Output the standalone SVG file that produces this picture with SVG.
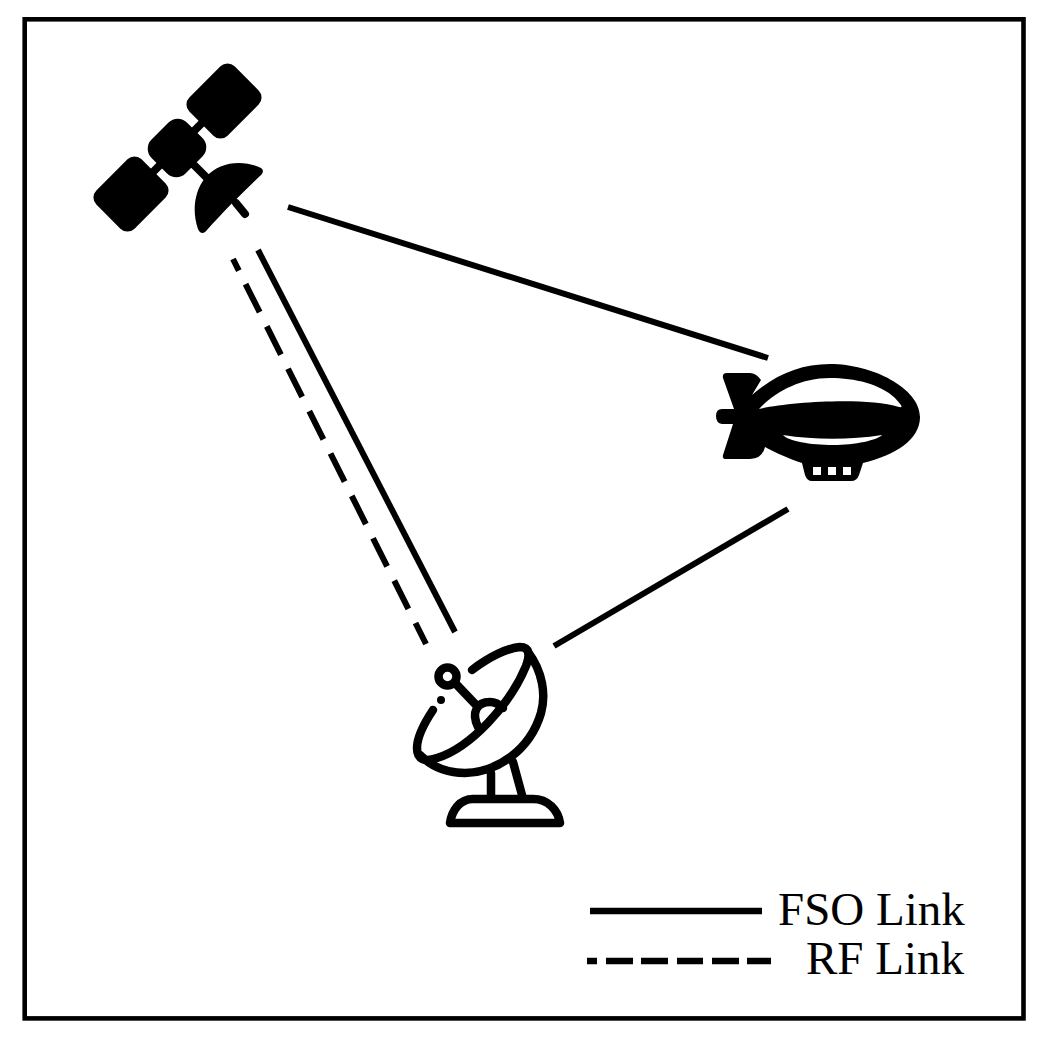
<svg xmlns="http://www.w3.org/2000/svg" width="1046" height="1040" viewBox="0 0 1046 1040">
<style>
.link{stroke:#000;stroke-width:6;fill:none}
.rf{stroke-dasharray:13 15 31.5 15.9 31.5 15.9 31.5 15.9 31.5 15.9 31.5 15.9 31.5 15.9 31.5 15.9 31.5 15.9 40 100}
.ln{stroke:#000;stroke-width:8.5;fill:none;stroke-linecap:round;stroke-linejoin:round}
.lbl{font-family:"Liberation Serif","Times New Roman",serif;font-size:47px;fill:#000}
</style>
<rect width="1046" height="1040" fill="#fff"/>
<rect x="24.7" y="19.3" width="998.8" height="999.1" fill="none" stroke="#000" stroke-width="4.6"/>
<g id="connectors">
<line class="link" x1="288" y1="207" x2="768" y2="358"/>
<line class="link" x1="258" y1="250" x2="455" y2="632"/>
<line class="link rf" x1="233" y1="259" x2="426" y2="644"/>
<line class="link" x1="788" y1="509" x2="554" y2="646"/>
</g>
<g id="satellite">
<rect x="-32" y="-27" width="64" height="54" rx="10" transform="translate(224 101) rotate(-45)"/>
<rect x="-32" y="-27" width="64" height="54" rx="10" transform="translate(131 194) rotate(-45)"/>
<rect x="-25" y="-24" width="50" height="48" rx="13" transform="translate(177 148) rotate(-45)"/>
<path d="M131 194L224 101M177 148L210 181M236 203L245 214" stroke="#000" stroke-width="8" stroke-linecap="round" fill="none"/>
<path d="M261 168C264 170 263 173 261 175C243 192 222 213 207 230C204 234 200 234 198 229C192 212 194 192 205 178C220 160 245 160 261 168Z"/>
</g>
<g id="airship">
<path fill-rule="evenodd" d="M727 373H750Q756 373 761 380L752 395C775 375 800 364 830 364C872 364 920 388 920 417C920 440 895 455 863 463L859 475Q857 481 851 481H812Q807 481 805 475L802 463C790 459 776 453 765 447Q762 459 750 459H726Q722 459 723 455L733 424H722Q716 423 716 416Q716 409 722 409H734L723 378Q722 373 727 373ZM759 409C790 402 865 397 899 407C905 408 899 403 895 398C880 384 855 378 830 378C800 378 775 392 759 409ZM783 435C815 440 850 440 882 435C878 440 855 445 833 445C810 445 788 441 783 435ZM813 467V475H821V467ZM828 467V475H836V467ZM843 467V475H851V467Z"/>
</g>
<g id="ground-station">
<circle cx="447.5" cy="676.5" r="9" class="ln"/>
<circle cx="441" cy="700" r="4"/>
<path class="ln" d="M457 685L478 707M478 727C471 712 477 702 490 702C496 702 500 705 503 708"/>
<path class="ln" d="M472 670C490 656 508 648 520 647C530 647 530 655 526 666C510 705 470 748 437 758C425 762 417 760 417 748C417 736 425 722 433 710"/>
<path class="ln" d="M528 652C543 672 546 695 541 713C530 750 498 772 465 773C447 773 432 767 420 755"/>
<path class="ln" d="M491 773V797M513 762L522 795"/>
<path class="ln" d="M450 823H560C558 810 548 799 533 799H473C460 799 452 810 450 823Z"/>
</g>
<g id="legend">
<line x1="590" y1="911" x2="762" y2="911" stroke="#000" stroke-width="6.5"/>
<line x1="587" y1="961" x2="771" y2="961" stroke="#000" stroke-width="6.5" stroke-dasharray="10 9 27 8 27 9 26 9 27 8 24"/>
<text class="lbl" x="778" y="925">FSO Link</text>
<text class="lbl" x="806" y="974">RF Link</text>
</g>
</svg>
